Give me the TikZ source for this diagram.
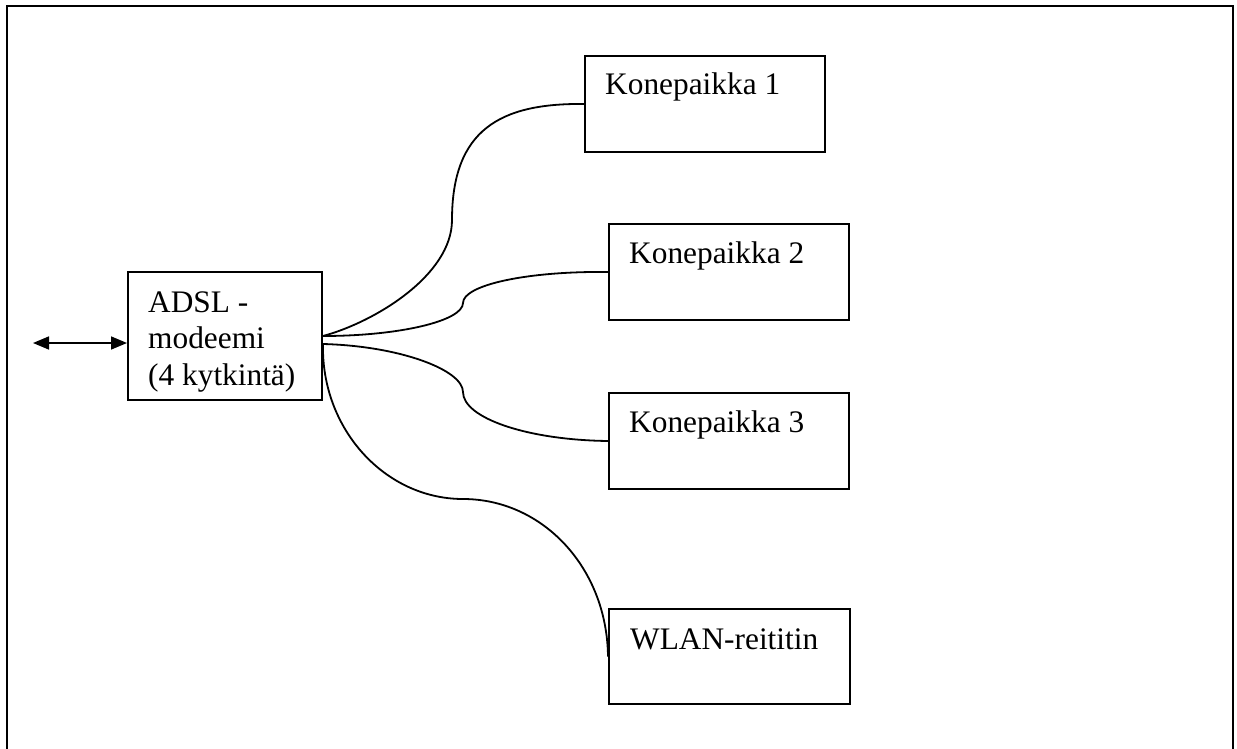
\documentclass[tikz,border=0pt]{standalone}
\usepackage{fontspec}
\setmainfont{Liberation Serif}
\usetikzlibrary{arrows.meta,calc}
\begin{document}
\begin{tikzpicture}[x=1pt,y=-1pt,
  box/.style={draw, line width=2pt, rectangle, inner sep=0pt,
              minimum width=240pt, minimum height=96pt, anchor=north west},
  lbl/.style={anchor=base west, inner sep=0pt,
              font=\fontsize{31.35}{36.5}\selectfont},
  wire/.style={line width=1.8pt},
  twoway/.style={line width=1.6pt,
    {Triangle[length=16pt,width=13pt]}-{Triangle[length=16pt,width=13pt]}}]
  \useasboundingbox (0,0) rectangle (1237,749);
  \clip (0,0) rectangle (1237,749);

  % page frame (runs off the bottom edge)
  \draw[line width=2.2pt] (7,760) -- (7,6) -- (1233,6) -- (1233,760);

  % modem
  \node[box, minimum width=194pt, minimum height=128pt] (adsl) at (127,271) {};
  \node[lbl] (adslA) at (148,312) {ADSL -};
  \node[lbl] (adslB) at (148,348.5) {modeemi};
  \node[lbl] (adslC) at (148,385) {(4 kytkintä)};

  % workstations and router
  \node[box] (k1) at (584,55) {};
  \node[lbl] (k1t) at (605,95) {Konepaikka 1};
  \node[box] (k2) at (608,223) {};
  \node[lbl] (k2t) at (629,263) {Konepaikka 2};
  \node[box] (k3) at (608,392) {};
  \node[lbl] (k3t) at (629,432) {Konepaikka 3};
  \node[box, minimum width=241pt, minimum height=95pt] (wlan) at (608,608) {};
  \node[lbl] (wlant) at (630,649) {WLAN-reititin};

  % outside line
  \coordinate (inet) at (33,343);
  \draw[twoway] (inet) -- (adsl.west |- inet);

  % ports on the modem
  \coordinate (portA) at (adsl.east);
  \coordinate (portB) at ($(adsl.east)+(0,8)$);

  % cables
  \draw[wire] (portA) .. controls (375,322) and (452,275) .. (452,220)
              .. controls (452,130) and (500,103) .. (k1.west);
  \draw[wire] (portA) .. controls (399,336) and (463,321) .. (463,303)
              .. controls (463,285) and (527,271) .. (k2.west);
  \draw[wire] (portB) .. controls (400,346) and (463,370) .. (463,392)
              .. controls (463,418) and (527,440) .. (k3.west);
  \draw[wire] (portB) .. controls (321,429) and (385,499) .. (463,499)
              .. controls (542,499) and (607,567) .. (wlan.west);
\end{tikzpicture}
\end{document}
